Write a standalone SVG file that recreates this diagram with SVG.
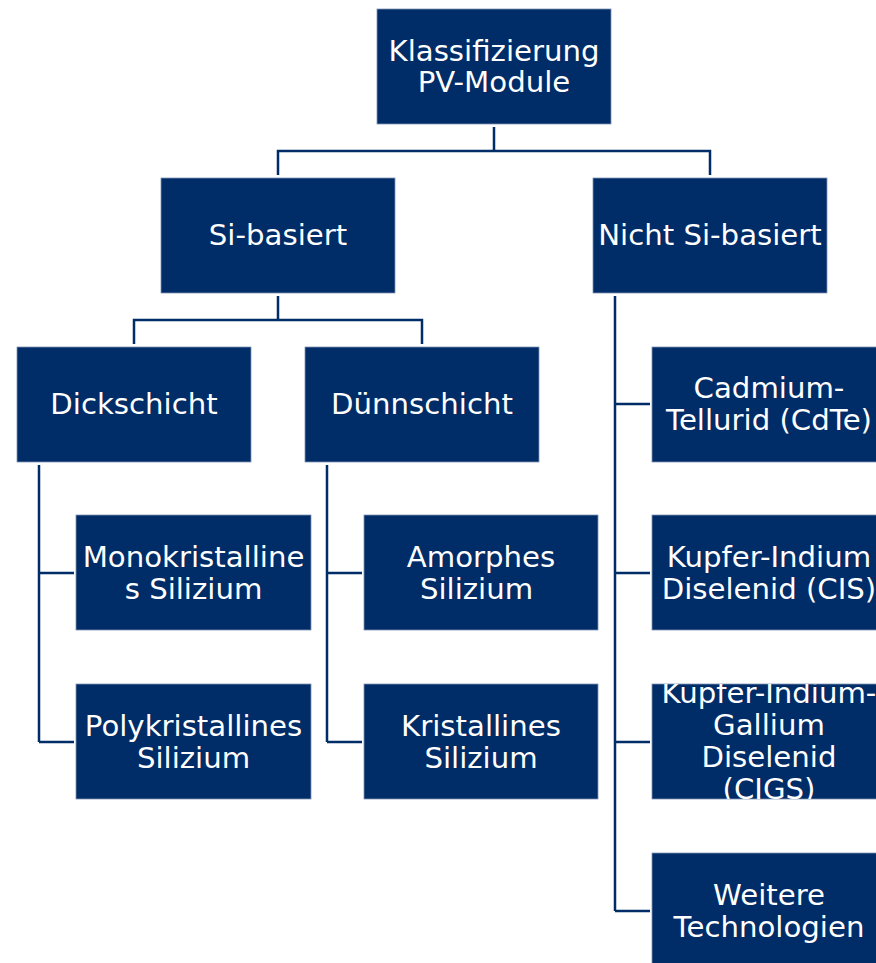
<svg xmlns="http://www.w3.org/2000/svg" width="876" height="963" viewBox="0 0 876 963">
<style>
.box{fill:#002c68;stroke:#7f95b4;stroke-width:0.8}
.t{font-family:"DejaVu Sans",sans-serif;font-size:29.2px;fill:#ffffff;text-anchor:middle}
.c{fill:none;stroke:#002c68;stroke-width:2.5}
</style>
<defs>
<clipPath id="clipCigs"><rect x="652" y="684" width="234" height="115"/></clipPath>
</defs>
<g id="connectors">
<path class="c" d="M494 127V151M278 175V151H710V175"/>
<path class="c" d="M278 296V320M134 344V320H422V344"/>
<path class="c" d="M39 465V742M39 573H74M39 742H74"/>
<path class="c" d="M327 465V742M327 573H362M327 742H362"/>
<path class="c" d="M615 296V911M615 404H650M615 573H650M615 742H650M615 911H650"/>
</g>
<g id="root"><rect class="box" x="377" y="9" width="234" height="115"/>
<text class="t" x="494" y="61">Klassifizierung</text><text class="t" x="494" y="92">PV-Module</text></g>
<g id="si"><rect class="box" x="161" y="178" width="234" height="115"/>
<text class="t" x="278" y="245">Si-basiert</text></g>
<g id="nichtsi"><rect class="box" x="593" y="178" width="234" height="115"/>
<text class="t" x="710" y="245">Nicht Si-basiert</text></g>
<g id="dick"><rect class="box" x="17" y="347" width="234" height="115"/>
<text class="t" x="134" y="414">Dickschicht</text></g>
<g id="duenn"><rect class="box" x="305" y="347" width="234" height="115"/>
<text class="t" x="422" y="414">Dünnschicht</text></g>
<g id="mono"><rect class="box" x="76" y="515" width="235" height="115"/>
<text class="t" x="193.5" y="567">Monokristalline</text><text class="t" x="193.5" y="599">s Silizium</text></g>
<g id="poly"><rect class="box" x="76" y="684" width="235" height="115"/>
<text class="t" x="193.5" y="736">Polykristallines</text><text class="t" x="193.5" y="768">Silizium</text></g>
<g id="amorph"><rect class="box" x="364" y="515" width="234" height="115"/>
<text class="t" x="481" y="567">Amorphes</text><text class="t" x="476.5" y="599">Silizium</text></g>
<g id="kristall"><rect class="box" x="364" y="684" width="234" height="115"/>
<text class="t" x="481" y="736">Kristallines</text><text class="t" x="481" y="768">Silizium</text></g>
<g id="cdte"><rect class="box" x="652" y="347" width="234" height="115"/>
<text class="t" x="769" y="398">Cadmium-</text><text class="t" x="769" y="430">Tellurid (CdTe)</text></g>
<g id="cis"><rect class="box" x="652" y="515" width="234" height="115"/>
<text class="t" x="769" y="567">Kupfer-Indium</text><text class="t" x="769" y="599">Diselenid (CIS)</text></g>
<g id="cigs"><rect class="box" x="652" y="684" width="234" height="115"/>
<g clip-path="url(#clipCigs)">
<text class="t" x="769" y="703">Kupfer-Indium-</text><text class="t" x="769" y="735">Gallium</text><text class="t" x="769" y="767">Diselenid</text><text class="t" x="769" y="799">(CIGS)</text></g></g>
<g id="weitere"><rect class="box" x="652" y="853" width="234" height="115"/>
<text class="t" x="769" y="905">Weitere</text><text class="t" x="769" y="937">Technologien</text></g>
</svg>
